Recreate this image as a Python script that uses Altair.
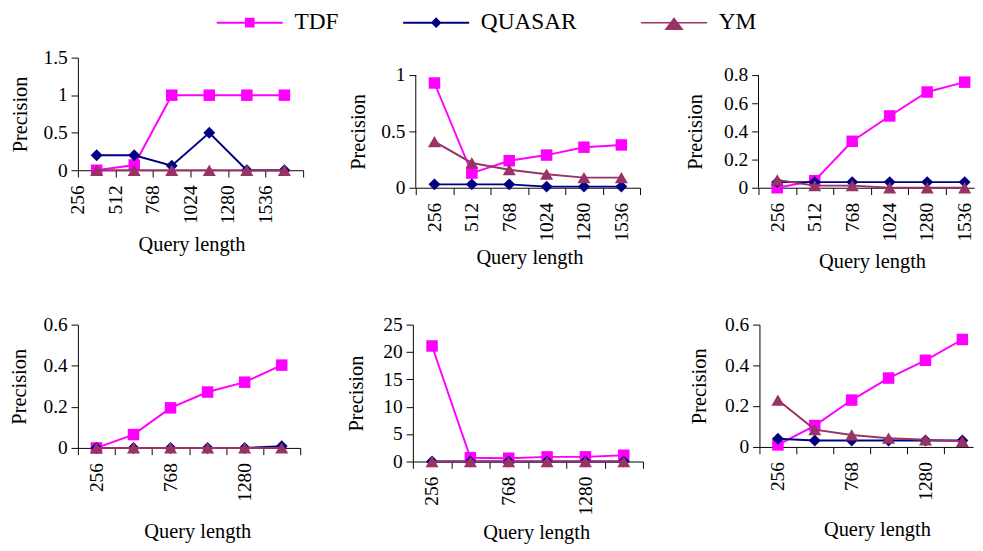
import altair as alt
import pandas as pd

# ---------------- data ----------------
series_names = ["TDF", "QUASAR", "YM"]
series_colors = ["#FF00FF", "#000080", "#993366"]
marker_shapes = ["square", "diamond", "triangle-up"]
marker_sizes = [140, 150, 180]
query_lengths = ["256", "512", "768", "1024", "1280", "1536"]

p1_tdf = [0.0, 0.07, 1.0, 1.0, 1.0, 1.0]
p1_quasar = [0.2, 0.2, 0.06, 0.5, 0.0, 0.0]
p1_ym = [0.0, 0.0, 0.0, 0.0, 0.0, 0.0]

p2_tdf = [0.93, 0.13, 0.24, 0.29, 0.36, 0.38]
p2_quasar = [0.03, 0.03, 0.03, 0.01, 0.01, 0.01]
p2_ym = [0.41, 0.22, 0.16, 0.12, 0.09, 0.09]

p3_tdf = [0.0, 0.05, 0.33, 0.51, 0.68, 0.75]
p3_quasar = [0.04, 0.04, 0.04, 0.04, 0.04, 0.04]
p3_ym = [0.055, 0.015, 0.015, 0.0, 0.0, 0.0]

p4_tdf = [0.0, 0.065, 0.195, 0.272, 0.32, 0.403]
p4_quasar = [0.0, 0.0, 0.0, 0.0, 0.0, 0.008]
p4_ym = [0.0, 0.0, 0.0, 0.0, 0.0, 0.0]

p5_tdf = [21.1, 0.7, 0.6, 0.85, 0.85, 1.15]
p5_quasar = [0.0, 0.0, 0.0, 0.0, 0.0, 0.0]
p5_ym = [0.0, 0.0, 0.0, 0.0, 0.0, 0.0]

p6_tdf = [0.01, 0.105, 0.23, 0.338, 0.425, 0.527]
p6_quasar = [0.04, 0.032, 0.032, 0.032, 0.032, 0.032]
p6_ym = [0.23, 0.085, 0.059, 0.043, 0.035, 0.028]

y_ticks_1 = [0, 0.5, 1, 1.5]
y_ticks_2 = [0, 0.5, 1]
y_ticks_3 = [0, 0.2, 0.4, 0.6, 0.8]
y_ticks_4 = [0, 0.2, 0.4, 0.6]
y_ticks_5 = [0, 5, 10, 15, 20, 25]
y_ticks_6 = [0, 0.2, 0.4, 0.6]

FONT = "Liberation Serif"


def make_panel(vals, ymax, yticks, width, height, xmax, label_idx, at_boundary,
               xt_x, xt_y, yt_x, top_pad=0):
    tick_vals = [float(i) for i in range(7) if i <= xmax]
    if at_boundary:
        label_pos = {float(i): query_lengths[i] for i in label_idx}
    else:
        label_pos = {i + 0.5: query_lengths[i] for i in label_idx}
    values = sorted(set(tick_vals) | set(label_pos.keys()))
    expr = "''"
    for p, t in label_pos.items():
        expr = f"datum.value === {p} ? '{t}' : ({expr})"

    total_h = height + top_pad
    y_top = ymax * total_h / height

    xenc = alt.X(
        "pos:Q",
        scale=alt.Scale(domain=[0, xmax], nice=False, zero=False),
        axis=alt.Axis(
            values=values, labelExpr=expr, labelAngle=270, labelAlign="right",
            labelBaseline="middle", labelPadding=8, tickSize=7,
            tickOpacity={"condition": {"test": "datum.value % 1 === 0", "value": 1}, "value": 0},
            labelOverlap=False, labelFlush=False, grid=False,
            title="Query length", titleX=xt_x, titleY=xt_y,
            titleBaseline="middle", titleAlign="center",
        ),
    )
    yenc = alt.Y(
        "value:Q",
        scale=alt.Scale(domain=[0, y_top], nice=False, zero=True),
        axis=alt.Axis(
            values=yticks, format="~g", tickSize=7, labelPadding=4, grid=False,
            labelOverlap=False, labelFlush=False, domain=(top_pad == 0),
            title="Precision", titleX=yt_x, titleY=top_pad + height / 2, titleAngle=270,
            titleBaseline="middle", titleAlign="center",
        ),
    )
    layers = []
    if top_pad:
        ax_df = pd.DataFrame({"pos": [0.0], "value": [0.0], "value2": [ymax]})
        layers.append(alt.Chart(ax_df).mark_rule(color="black", strokeWidth=1).encode(
            x=xenc, y=yenc, y2="value2:Q"))
    for name, col, shp, sz, v in zip(series_names, series_colors, marker_shapes, marker_sizes, vals):
        df = pd.DataFrame({"pos": [i + 0.5 for i in range(len(v))], "value": v, "series": name})
        base = alt.Chart(df).encode(x=xenc, y=yenc)
        layers.append(base.mark_line(color=col, strokeWidth=2))
        layers.append(base.mark_point(shape=shp, size=sz, filled=True, color=col, opacity=1))
    return alt.layer(*layers).properties(width=width, height=total_h)


p1 = make_panel((p1_tdf, p1_quasar, p1_ym), 1.5, y_ticks_1, 232, 116, 6, range(6), True, 117, 77, -59)
p2 = make_panel((p2_tdf, p2_quasar, p2_ym), 1.0, y_ticks_2, 231, 116, 6, range(6), False, 117, 72, -59, 18)
p3 = make_panel((p3_tdf, p3_quasar, p3_ym), 0.8, y_ticks_3, 222, 116, 5.75, range(6), False, 117, 76, -65, 18)
p4 = make_panel((p4_tdf, p4_quasar, p4_ym), 0.6, y_ticks_4, 229, 127, 6, [0, 2, 4], False, 123, 86, -60)
p5 = make_panel((p5_tdf, p5_quasar, p5_ym), 25, y_ticks_5, 237, 141, 6, [0, 2, 4], False, 127, 73, -58)
p6 = make_panel((p6_tdf, p6_quasar, p6_ym), 0.6, y_ticks_6, 220, 126, 5.79, [0, 2, 4], False, 121, 85, -62)

# ---------------- legend ----------------
legend_paths = [
    "M-6.8,-0.2H6.8V0.2H-6.8Z M-1,-1H1V1H-1Z",
    "M-6.8,-0.2H6.8V0.2H-6.8Z M0,-1.1L1.1,0L0,1.1L-1.1,0Z",
    "M-6.8,-0.15H6.8V0.15H-6.8Z M0,-1.1L2,1.5L-2,1.5Z",
]
leg_df = pd.DataFrame({"series": series_names})
leg_opts = dict(
    title=None, orient="none", legendX=165, legendY=-10, direction="horizontal",
    symbolSize=100, symbolOpacity=1, symbolStrokeWidth=0, offset=0,
    labelFont=FONT, labelFontSize=24, labelColor="black", labelOffset=34,
    columnPadding=66, padding=0, labelLimit=300,
)
legend_chart = alt.Chart(leg_df).mark_point(filled=True, opacity=0).encode(
    color=alt.Color("series:N", scale=alt.Scale(domain=series_names, range=series_colors),
                    legend=alt.Legend(**leg_opts)),
    shape=alt.Shape("series:N", scale=alt.Scale(domain=series_names, range=legend_paths),
                    legend=alt.Legend(**leg_opts)),
).properties(width=1, height=1)

row1 = alt.hconcat(p1, p2, p3, spacing=36)
row2 = alt.hconcat(p4, p5, p6, spacing=37)
grid = alt.vconcat(row1, row2, spacing=45)

chart = alt.vconcat(legend_chart, grid, spacing=23).properties(
    padding={"left": 1, "top": -5, "right": 0, "bottom": 0}
).configure_view(stroke=None).configure_axis(
    labelFont=FONT, labelFontSize=20, labelColor="black",
    titleFont=FONT, titleFontSize=21, titleFontWeight="normal", titleColor="black",
    tickColor="black", domainColor="black", domainWidth=1, tickWidth=1,
).configure_legend(labelFont=FONT).configure_title(font=FONT)

chart.save("out.html", embed_options={"renderer": "svg", "actions": False})
